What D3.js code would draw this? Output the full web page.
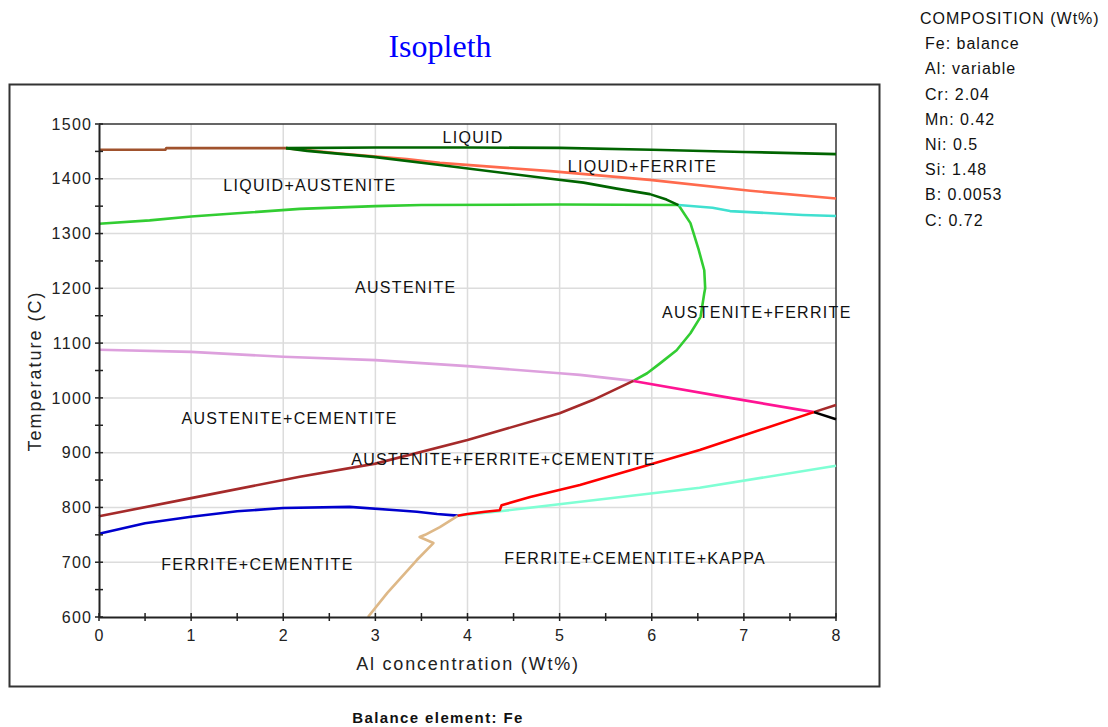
<!DOCTYPE html>
<html>
<head>
<meta charset="utf-8">
<script src="https://cdn.jsdelivr.net/npm/d3@7/dist/d3.min.js"></script>
<style>
  html, body { margin: 0; padding: 0; background: #fff; }
  svg { display: block; font-family: "Liberation Sans", Arial, sans-serif; }
</style>
</head>
<body>
<svg id="chart" width="1108" height="727"></svg>
<script>
// Axis ticks
const xTicks = [0, 1, 2, 3, 4, 5, 6, 7, 8];
const xMinorTicks = [0.5, 1.5, 2.5, 3.5, 4.5, 5.5, 6.5, 7.5];
const yTicks = [600, 700, 800, 900, 1000, 1100, 1200, 1300, 1400, 1500];
const yMinorTicks = [650, 750, 850, 950, 1050, 1150, 1250, 1350, 1450];

// Phase boundaries: [Al wt%, temperature C]
const liquidusLowAl = [[0, 1453], [0.72, 1453], [0.73, 1456], [2.03, 1456]];
const liquidusHighAl = [[2.03, 1456], [3, 1457], [4, 1457], [5, 1456.5], [6, 1453], [7, 1449], [8, 1445]];
const ferriteLiquidus = [[2.03, 1456], [2.62, 1446], [3.34, 1436], [3.7, 1429], [4.9, 1414], [5.98, 1398], [7.07, 1378], [8, 1364]];
const peritecticLine = [[2.03, 1456], [2.26, 1451], [2.98, 1440], [3.7, 1425], [4.9, 1400], [5.26, 1393], [5.62, 1382], [5.98, 1372], [6.16, 1362], [6.29, 1352]];
const austeniteSolidus = [[0, 1318], [0.55, 1324], [1, 1331], [1.5, 1337], [2.18, 1345], [3, 1350], [3.5, 1352], [5, 1353], [6.29, 1352]];
const ferriteLoop = [[6.29, 1352], [6.42, 1319], [6.51, 1270], [6.57, 1233], [6.58, 1200], [6.57, 1191], [6.53, 1148], [6.42, 1118], [6.27, 1087], [6.09, 1063], [5.95, 1045], [5.8, 1031]];
const ferriteSolidus = [[6.29, 1352], [6.66, 1347], [6.85, 1341], [7.64, 1334], [8, 1332]];
const acmLine = [[0, 1088], [1, 1084], [2, 1075], [3, 1069], [4, 1058], [5, 1045], [5.22, 1042], [5.8, 1031]];
const acmFerriteLine = [[5.8, 1031], [6.85, 1000], [7.76, 974]];
const cementiteFerriteLine = [[0, 784], [1, 817], [2.18, 856], [3, 880], [4, 923], [5, 972], [5.36, 996], [5.8, 1031]];
const cementiteFerriteHigh = [[7.76, 974], [8, 987]];
const kappaLine = [[3.89, 785], [4.0, 788], [4.19, 792], [4.35, 795], [4.37, 804], [4.68, 819], [5.22, 841], [6.52, 905], [7.76, 974]];
const kappaHighLine = [[7.76, 974], [8, 961]];
const eutectoidLine = [[0, 752], [0.5, 771], [1, 783], [1.5, 793], [2, 799], [2.72, 801], [3.23, 795], [3.45, 792], [3.67, 788], [3.89, 785]];
const ferriteCementiteLine = [[2.92, 600], [3.13, 644], [3.45, 704], [3.63, 735], [3.48, 746], [3.54, 750], [3.7, 764], [3.89, 784]];
const kappaSolvus = [[3.89, 785], [4.35, 793], [5.11, 808], [6.52, 836], [8, 876]];

const boundaries = [
  { pts: austeniteSolidus, color: "#32cd32" },
  { pts: ferriteLoop, color: "#32cd32" },
  { pts: ferriteSolidus, color: "#40e0d0" },
  { pts: liquidusLowAl, color: "#a0522d" },
  { pts: ferriteLiquidus, color: "#ff6a4d" },
  { pts: peritecticLine, color: "#006400" },
  { pts: liquidusHighAl, color: "#006400" },
  { pts: acmLine, color: "#dda0dd" },
  { pts: acmFerriteLine, color: "#ff1493" },
  { pts: cementiteFerriteLine, color: "#a52a2a" },
  { pts: cementiteFerriteHigh, color: "#a52a2a" },
  { pts: kappaHighLine, color: "#000000" },
  { pts: kappaSolvus, color: "#7fffd4" },
  { pts: kappaLine, color: "#ff0000" },
  { pts: eutectoidLine, color: "#0000cd" },
  { pts: ferriteCementiteLine, color: "#deb887" }
];

// Phase field labels: [text, Al wt%, temperature C]
const phaseLabels = [
  ["LIQUID", 4.06, 1476],
  ["LIQUID+FERRITE", 5.9, 1423],
  ["LIQUID+AUSTENITE", 2.29, 1387],
  ["AUSTENITE", 3.33, 1201],
  ["AUSTENITE+FERRITE", 7.14, 1155],
  ["AUSTENITE+CEMENTITE", 2.07, 963],
  ["AUSTENITE+FERRITE+CEMENTITE", 4.39, 887],
  ["FERRITE+CEMENTITE", 1.72, 695],
  ["FERRITE+CEMENTITE+KAPPA", 5.82, 706]
];

const compositionLines = [
  "COMPOSITION (Wt%)", "Fe: balance", "Al: variable", "Cr: 2.04", "Mn: 0.42",
  "Ni: 0.5", "Si: 1.48", "B: 0.0053", "C: 0.72"
];

const svg = d3.select("#chart");
const x = d3.scaleLinear().domain([0, 8]).range([99, 836]);
const y = d3.scaleLinear().domain([600, 1500]).range([617, 124]);

// outer frame
svg.append("rect").attr("x", 9.5).attr("y", 84.5).attr("width", 870).attr("height", 602)
  .attr("fill", "none").attr("stroke", "#333").attr("stroke-width", 2);

// title
svg.append("text").attr("x", 440).attr("y", 57).attr("text-anchor", "middle")
  .attr("font-family", "'Liberation Serif', 'Times New Roman', serif").attr("font-size", 32)
  .attr("fill", "#0000ff").text("Isopleth");

// grid
const grid = svg.append("g").attr("stroke", "#dcdcdc").attr("stroke-width", 1.5);
xTicks.slice(1, -1).forEach(t => grid.append("line")
  .attr("x1", x(t)).attr("x2", x(t)).attr("y1", y(600)).attr("y2", y(1500)));
yTicks.slice(1, -1).forEach(t => grid.append("line")
  .attr("x1", x(0)).attr("x2", x(8)).attr("y1", y(t)).attr("y2", y(t)));

// plot border (top/right)
svg.append("path")
  .attr("d", `M${x(0)},${y(1500)}H${x(8)}V${y(600)}`)
  .attr("fill", "none").attr("stroke", "#333").attr("stroke-width", 1.5);

// boundaries
const line = d3.line().x(d => x(d[0])).y(d => y(d[1]));
svg.append("g").selectAll("path").data(boundaries).join("path")
  .attr("d", d => line(d.pts))
  .attr("fill", "none").attr("stroke", d => d.color)
  .attr("stroke-width", 2.6).attr("stroke-linejoin", "round");

// axes
const xAxis = d3.axisBottom(x).tickValues(xTicks).tickSize(0).tickPadding(13).tickFormat(d3.format("d"));
const yAxis = d3.axisLeft(y).tickValues(yTicks).tickSize(0).tickPadding(8).tickFormat(d3.format("d"));
const gx = svg.append("g").attr("transform", `translate(0,${y(600)})`).call(xAxis);
const gy = svg.append("g").attr("transform", `translate(${x(0)},0)`).call(yAxis);
[gx, gy].forEach(g => {
  g.select(".domain").attr("stroke", "#222").attr("stroke-width", 2);
  g.selectAll("text").attr("font-family", "'Liberation Sans', Arial, sans-serif")
    .attr("font-size", 16).attr("fill", "#222").style("letter-spacing", "1.3px");
});
gy.selectAll("text").attr("dx", "1.3px");

const tickG = svg.append("g").attr("stroke", "#222").attr("stroke-width", 1.5);
xTicks.concat(xMinorTicks).forEach(t => tickG.append("line")
  .attr("x1", x(t)).attr("x2", x(t)).attr("y1", y(600) - 4).attr("y2", y(600) + 4));
yTicks.concat(yMinorTicks).forEach(t => tickG.append("line")
  .attr("x1", x(0) - 4).attr("x2", x(0) + 4).attr("y1", y(t)).attr("y2", y(t)));

// axis titles
svg.append("text").attr("x", 468).attr("y", 670).attr("text-anchor", "middle")
  .attr("font-size", 18).attr("fill", "#222").style("letter-spacing", "1.8px")
  .text("Al concentration (Wt%)");
svg.append("text").attr("transform", "translate(41,371) rotate(-90)").attr("text-anchor", "middle")
  .attr("font-size", 18).attr("fill", "#222").style("letter-spacing", "2px")
  .text("Temperature (C)");

// phase labels
svg.append("g").selectAll("text").data(phaseLabels).join("text")
  .attr("x", d => x(d[1])).attr("y", d => y(d[2]))
  .attr("text-anchor", "middle").attr("dominant-baseline", "central")
  .attr("font-size", 16).attr("fill", "#111").style("letter-spacing", "1.3px")
  .text(d => d[0]);

// composition block
svg.append("g").selectAll("text").data(compositionLines).join("text")
  .attr("x", (d, i) => i === 0 ? 920 : 925)
  .attr("y", (d, i) => 24 + i * 25.2)
  .attr("font-size", 16).attr("fill", "#111").style("letter-spacing", "1px")
  .text(d => d);

// footer
svg.append("text").attr("x", 438).attr("y", 723).attr("text-anchor", "middle")
  .attr("font-size", 15).attr("font-weight", "bold").attr("fill", "#111")
  .style("letter-spacing", "1.4px").text("Balance element: Fe");
</script>
</body>
</html>
